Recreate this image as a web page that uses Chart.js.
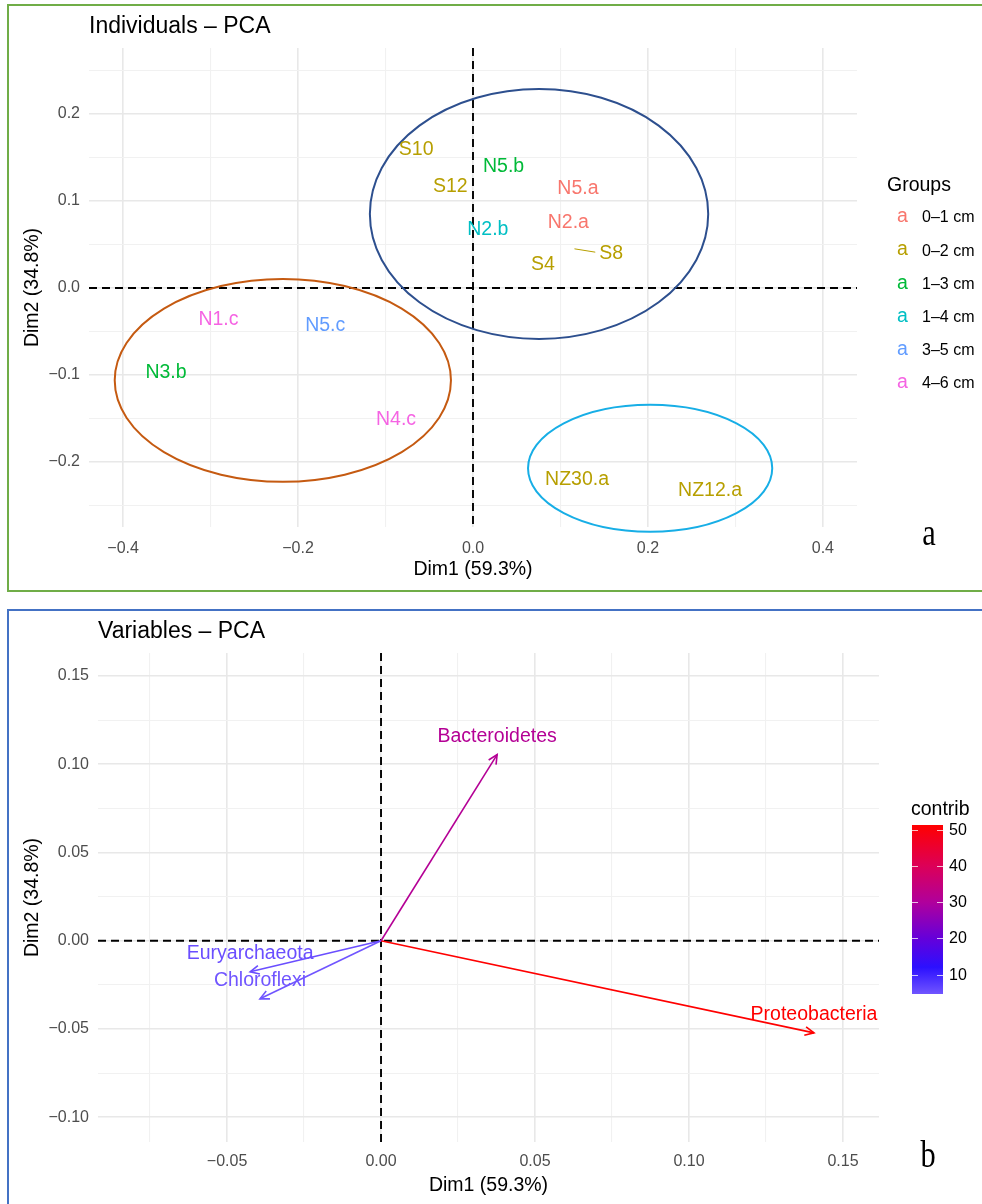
<!DOCTYPE html>
<html>
<head>
<meta charset="utf-8">
<script src="https://cdn.jsdelivr.net/npm/chart.js@4.4.0/dist/chart.umd.min.js"></script>
<style>
  html, body { margin: 0; padding: 0; background: #fff; }
  body { width: 982px; height: 1204px; position: relative; overflow: hidden; }
  .box { position: absolute; left: 0; width: 982px; }
  #boxA { top: 0; height: 600px; }
  #boxB { top: 600px; height: 604px; }
  .frame { position: absolute; pointer-events: none; }
  #frameA { left: 7px; top: 4px; width: 990px; height: 584px; border: 2px solid #70AD47; border-right: none; }
  #frameB { left: 7px; top: 609px; width: 990px; height: 600px; border: 2px solid #4472C4; border-right: none; border-bottom: none; }
</style>
</head>
<body>
<div class="box" id="boxA"><canvas id="indChart"></canvas></div>
<div class="box" id="boxB"><canvas id="varChart"></canvas></div>
<div class="frame" id="frameA"></div>
<div class="frame" id="frameB"></div>
<script>
// ---- individuals (panel a) ----
const sampleNames = ["S10", "N5.b", "S12", "N5.a", "N2.b", "N2.a", "S8", "S4", "N1.c", "N5.c", "N3.b", "N4.c", "NZ30.a", "NZ12.a"];
const sampleGroups = ["0–2 cm", "1–3 cm", "0–2 cm", "0–1 cm", "1–4 cm", "0–1 cm", "0–2 cm", "0–2 cm", "4–6 cm", "3–5 cm", "1–3 cm", "4–6 cm", "0–2 cm", "0–2 cm"];
const dim1 = [-0.065, 0.035, -0.026, 0.120, 0.017, 0.109, 0.116, 0.080, -0.291, -0.169, -0.351, -0.088, 0.119, 0.271];
const dim2 = [0.159, 0.140, 0.117, 0.114, 0.067, 0.075, 0.045, 0.027, -0.036, -0.043, -0.097, -0.151, -0.220, -0.233];
// repelled label offsets (only S8 was pushed away from its point)
const labelShiftX = [0, 0, 0, 0, 0, 0, 0.042, 0, 0, 0, 0, 0, 0, 0];
const labelShiftY = [0, 0, 0, 0, 0, 0, -0.005, 0, 0, 0, 0, 0, 0, 0];

const groupNames = ["0–1 cm", "0–2 cm", "1–3 cm", "1–4 cm", "3–5 cm", "4–6 cm"];
const groupColors = ["#F8766D", "#B79F00", "#00BA38", "#00BFC4", "#619CFF", "#F564E3"];

const clusterCx = [0.0755, -0.2174, 0.2025];
const clusterCy = [0.0851, -0.1063, -0.2075];
const clusterRx = [0.1934, 0.1922, 0.1396];
const clusterRy = [0.1437, 0.1167, 0.0730];
const clusterColors = ["#2D4F8E", "#C55A11", "#17AEE6"];

const indGridX = [-0.4, -0.3, -0.2, -0.1, 0, 0.1, 0.2, 0.3, 0.4];
const indTickX = [-0.4, -0.2, 0, 0.2, 0.4];
const indTickXLabels = ["−0.4", "−0.2", "0.0", "0.2", "0.4"];
const indGridY = [-0.25, -0.2, -0.15, -0.1, -0.05, 0, 0.05, 0.1, 0.15, 0.2, 0.25];
const indTickY = [-0.2, -0.1, 0, 0.1, 0.2];
const indTickYLabels = ["−0.2", "−0.1", "0.0", "0.1", "0.2"];

// ---- variables (panel b) ----
const varNames = ["Bacteroidetes", "Proteobacteria", "Euryarchaeota", "Chloroflexi"];
const varDim1 = [0.0377, 0.1406, -0.0425, -0.0393];
const varDim2 = [0.1054, -0.0522, -0.0176, -0.0329];
const varContrib = [31.0, 51.4, 5.3, 4.6];

const contribTicks = [10, 20, 30, 40, 50];
const contribStops = [4.6, 12, 20, 30, 40, 51.4];
const contribStopColors = ["#7055FF", "#2C10FF", "#6500DA", "#B0009C", "#DC0058", "#FF0000"];

const varGridX = [-0.075, -0.05, -0.025, 0, 0.025, 0.05, 0.075, 0.1, 0.125, 0.15];
const varTickX = [-0.05, 0, 0.05, 0.1, 0.15];
const varTickXLabels = ["−0.05", "0.00", "0.05", "0.10", "0.15"];
const varGridY = [-0.1, -0.075, -0.05, -0.025, 0, 0.025, 0.05, 0.075, 0.1, 0.125, 0.15];
const varTickY = [-0.1, -0.05, 0, 0.05, 0.1, 0.15];
const varTickYLabels = ["−0.10", "−0.05", "0.00", "0.05", "0.10", "0.15"];

const FONT = '"Liberation Sans", Arial, Helvetica, sans-serif';
Chart.defaults.font.family = FONT;

function findVal(v, list) {
    return list.findIndex(m => Math.abs(m - v) < 1e-9);
}

function hexToRgb(h) {
    const n = parseInt(h.slice(1), 16);
    return [(n >> 16) & 255, (n >> 8) & 255, n & 255];
}

function contribColor(v) {
    if (v <= contribStops[0]) return contribStopColors[0];
    for (let i = 1; i < contribStops.length; i++) {
        if (v <= contribStops[i]) {
            const t = (v - contribStops[i - 1]) / (contribStops[i] - contribStops[i - 1]);
            const a = hexToRgb(contribStopColors[i - 1]), b = hexToRgb(contribStopColors[i]);
            const c = a.map((x, k) => Math.round(x + (b[k] - x) * t));
            return "rgb(" + c.join(",") + ")";
        }
    }
    return contribStopColors[contribStopColors.length - 1];
}

function axisOpts(min, max, grid, ticks, labels, fit, tickPad, title, titlePad) {
    return {
        type: "linear",
        min: min,
        max: max,
        border: { display: false },
        grid: {
            drawTicks: false,
            color: c => findVal(c.tick.value, ticks) >= 0 ? "#E8E8E8" : "#F1F1F1",
            lineWidth: c => findVal(c.tick.value, ticks) >= 0 ? 1.6 : 1.1
        },
        afterBuildTicks: s => { s.ticks = grid.map(v => ({ value: v })); },
        afterFit: fit,
        ticks: {
            autoSkip: false,
            maxRotation: 0,
            padding: tickPad,
            color: "#4D4D4D",
            font: { size: 16 },
            callback: v => { const i = findVal(v, ticks); return i < 0 ? "" : labels[i]; }
        },
        title: { display: true, text: title, color: "#000", font: { size: 19.5 }, padding: titlePad }
    };
}

function drawZeroLines(chart) {
    const { ctx, chartArea: a, scales: { x, y } } = chart;
    const px = x.getPixelForValue(0), py = y.getPixelForValue(0);
    ctx.save();
    ctx.strokeStyle = "#000";
    ctx.lineWidth = 1.9;
    ctx.setLineDash([8, 5]);
    ctx.beginPath();
    ctx.moveTo(a.left, py); ctx.lineTo(a.right, py);
    ctx.moveTo(px, a.top); ctx.lineTo(px, a.bottom);
    ctx.stroke();
    ctx.restore();
}

function drawPanelText(ctx, title, tx, ty, letter, lx, ly) {
    ctx.save();
    ctx.fillStyle = "#000";
    ctx.font = "23px " + FONT;
    ctx.textAlign = "left";
    ctx.textBaseline = "middle";
    ctx.fillText(title, tx, ty);
    ctx.translate(lx, ly);
    ctx.scale(0.8, 1);
    ctx.font = "38px \"Liberation Serif\", \"Times New Roman\", serif";
    ctx.textAlign = "center";
    ctx.textBaseline = "alphabetic";
    ctx.fillText(letter, 0, 0);
    ctx.restore();
}

const indDecor = {
    id: "indDecor",
    beforeDatasetsDraw(chart) {
        drawZeroLines(chart);
    },
    afterDatasetsDraw(chart) {
        const { ctx, scales: { x, y } } = chart;
        ctx.save();
        // cluster ellipses
        ctx.lineWidth = 2;
        clusterCx.forEach((cx, i) => {
            const px = x.getPixelForValue(cx), py = y.getPixelForValue(clusterCy[i]);
            const rx = Math.abs(x.getPixelForValue(cx + clusterRx[i]) - px);
            const ry = Math.abs(y.getPixelForValue(clusterCy[i] + clusterRy[i]) - py);
            ctx.strokeStyle = clusterColors[i];
            ctx.beginPath();
            ctx.ellipse(px, py, rx, ry, 0, 0, 2 * Math.PI);
            ctx.stroke();
        });
        // sample labels
        ctx.font = "19.5px " + FONT;
        ctx.textAlign = "center";
        ctx.textBaseline = "middle";
        const pts = chart.getDatasetMeta(0).data;
        sampleNames.forEach((name, i) => {
            const col = groupColors[groupNames.indexOf(sampleGroups[i])];
            const p = pts[i];
            const lx = x.getPixelForValue(dim1[i] + labelShiftX[i]);
            const ly = y.getPixelForValue(dim2[i] + labelShiftY[i]);
            if (labelShiftX[i] !== 0 || labelShiftY[i] !== 0) {
                const w = ctx.measureText(name).width;
                ctx.strokeStyle = col;
                ctx.lineWidth = 1;
                ctx.beginPath();
                ctx.moveTo(p.x, p.y);
                ctx.lineTo(lx - w / 2 - 4, ly - 1);
                ctx.stroke();
            }
            ctx.fillStyle = col;
            ctx.fillText(name, lx, ly);
        });
        ctx.restore();
    },
    afterDraw(chart) {
        const ctx = chart.ctx;
        drawPanelText(ctx, "Individuals – PCA", 89, 27, "a", 929, 545);
        // group legend
        ctx.save();
        ctx.textBaseline = "middle";
        ctx.textAlign = "left";
        ctx.fillStyle = "#000";
        ctx.font = "19.5px " + FONT;
        ctx.fillText("Groups", 887, 186);
        groupNames.forEach((g, i) => {
            const yy = 218 + i * 33.1;
            ctx.font = "19.5px " + FONT;
            ctx.textAlign = "center";
            ctx.fillStyle = groupColors[i];
            ctx.fillText("a", 902.5, yy - 1);
            ctx.font = "16px " + FONT;
            ctx.textAlign = "left";
            ctx.fillStyle = "#000";
            ctx.fillText(g, 922, yy);
        });
        ctx.restore();
    }
};

new Chart(document.getElementById("indChart"), {
    type: "scatter",
    data: {
        datasets: [{
            data: dim1.map((v, i) => ({ x: v, y: dim2[i] })),
            pointRadius: 0,
            pointHoverRadius: 0
        }]
    },
    options: {
        responsive: true,
        maintainAspectRatio: false,
        animation: false,
        events: [],
        layout: { padding: { top: 48, right: 125, left: 0, bottom: 0 } },
        plugins: { legend: { display: false }, tooltip: { enabled: false } },
        scales: {
            x: axisOpts(-0.439, 0.439, indGridX, indTickX, indTickXLabels, s => { s.height = 73; }, 12, "Dim1 (59.3%)", { bottom: 19 }),
            y: axisOpts(-0.275, 0.276, indGridY, indTickY, indTickYLabels, s => { s.width = 89; }, 9, "Dim2 (34.8%)", { top: 21 })
        }
    },
    plugins: [indDecor]
});

const varDecor = {
    id: "varDecor",
    beforeDatasetsDraw(chart) {
        drawZeroLines(chart);
    },
    afterDatasetsDraw(chart) {
        const ctx = chart.ctx;
        ctx.save();
        ctx.font = "19.5px " + FONT;
        ctx.textAlign = "center";
        ctx.textBaseline = "middle";
        varNames.forEach((name, i) => {
            const pts = chart.getDatasetMeta(i).data;
            const a = pts[0], b = pts[1];
            const col = contribColor(varContrib[i]);
            const ang = Math.atan2(b.y - a.y, b.x - a.x);
            const len = 10, spread = 0.45;
            ctx.strokeStyle = col;
            ctx.lineWidth = 1.6;
            ctx.beginPath();
            ctx.moveTo(b.x - len * Math.cos(ang - spread), b.y - len * Math.sin(ang - spread));
            ctx.lineTo(b.x, b.y);
            ctx.lineTo(b.x - len * Math.cos(ang + spread), b.y - len * Math.sin(ang + spread));
            ctx.stroke();
            ctx.fillStyle = col;
            ctx.fillText(name, b.x, b.y - 18);
        });
        ctx.restore();
    },
    afterDraw(chart) {
        const ctx = chart.ctx;
        drawPanelText(ctx, "Variables – PCA", 98, 32, "b", 928, 567);
        // contrib colour bar
        const lo = Math.min(...varContrib), hi = Math.max(...varContrib);
        const left = 912, w = 31, top = 225, bottom = 394;
        const yOf = v => bottom - (v - lo) / (hi - lo) * (bottom - top);
        ctx.save();
        const grad = ctx.createLinearGradient(0, bottom, 0, top);
        contribStops.forEach((s, i) => {
            grad.addColorStop(Math.min(1, Math.max(0, (s - lo) / (hi - lo))), contribStopColors[i]);
        });
        ctx.fillStyle = grad;
        ctx.fillRect(left, top, w, bottom - top);
        ctx.fillStyle = "#000";
        ctx.font = "19.5px " + FONT;
        ctx.textAlign = "left";
        ctx.textBaseline = "middle";
        ctx.fillText("contrib", 911, 210);
        ctx.font = "16px " + FONT;
        ctx.strokeStyle = "rgba(255,255,255,0.75)";
        ctx.lineWidth = 1;
        contribTicks.forEach(t => {
            const yy = Math.round(yOf(t)) + 0.5;
            ctx.beginPath();
            ctx.moveTo(left, yy); ctx.lineTo(left + 6, yy);
            ctx.moveTo(left + w - 6, yy); ctx.lineTo(left + w, yy);
            ctx.stroke();
            ctx.fillText(String(t), 949, yy);
        });
        ctx.restore();
    }
};

new Chart(document.getElementById("varChart"), {
    type: "scatter",
    data: {
        datasets: varNames.map((name, i) => ({
            label: name,
            data: [{ x: 0, y: 0 }, { x: varDim1[i], y: varDim2[i] }],
            showLine: true,
            borderColor: contribColor(varContrib[i]),
            borderWidth: 1.6,
            pointRadius: 0,
            pointHoverRadius: 0
        }))
    },
    options: {
        responsive: true,
        maintainAspectRatio: false,
        animation: false,
        events: [],
        layout: { padding: { top: 53, right: 103, left: 0, bottom: 0 } },
        plugins: { legend: { display: false }, tooltip: { enabled: false } },
        scales: {
            x: axisOpts(-0.0919, 0.1617, varGridX, varTickX, varTickXLabels, s => { s.height = 62; }, 10, "Dim1 (59.3%)", { bottom: 7 }),
            y: axisOpts(-0.114, 0.163, varGridY, varTickY, varTickYLabels, s => { s.width = 98; }, 9, "Dim2 (34.8%)", { top: 21 })
        }
    },
    plugins: [varDecor]
});
</script>
</body>
</html>
